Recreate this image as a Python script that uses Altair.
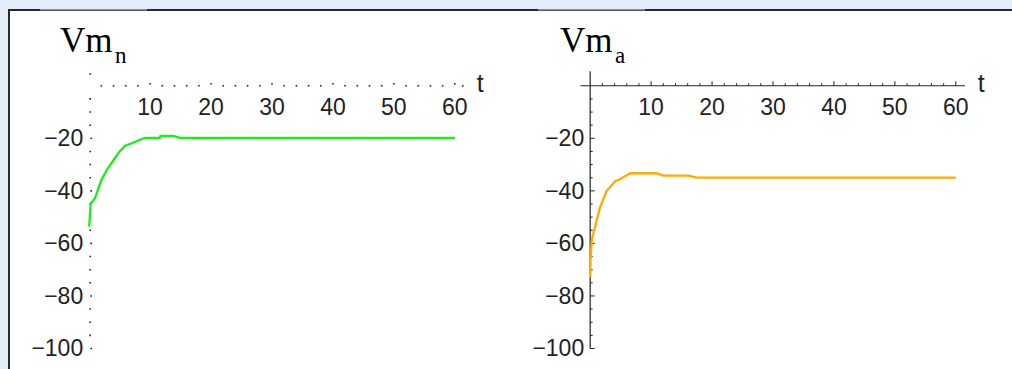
import altair as alt
import pandas as pd

# ---------------- data ----------------
T_N = [0.0, 0.25, 0.95, 2.0, 3.0, 4.2, 5.0, 5.9, 7.2, 8.3, 9.2, 11.6, 11.7, 13.8, 14.9, 20, 30, 40, 50, 60]
V_N = [-53.6, -44.8, -42.8, -35.9, -31.6, -27.6, -25.0, -22.8, -21.7, -20.6, -19.8, -19.8, -19.1, -19.1, -19.8,
       -19.8, -19.8, -19.8, -19.8, -19.8]

T_A = [0.0, 0.05, 0.28, 1.6, 2.7, 4.1, 4.9, 5.7, 6.6, 10.9, 12.0, 16.1, 17.5, 20, 30, 40, 50, 60]
V_A = [-73.0, -66.5, -58.5, -46.4, -40.0, -36.3, -35.6, -34.4, -33.3, -33.3, -34.2, -34.2, -35.0,
       -35.0, -35.0, -35.0, -35.0, -35.0]

X_MAJOR = [10, 20, 30, 40, 50, 60]
X_MINOR = [2, 4, 6, 8, 12, 14, 16, 18, 22, 24, 26, 28, 32, 34, 36, 38, 42, 44, 46, 48, 52, 54, 56, 58]
Y_MAJOR = [-20, -40, -60, -80, -100]
Y_MINOR = [-5, -10, -15, -25, -30, -35, -45, -50, -55, -65, -70, -75, -85, -90, -95]
X_AXIS_END = [-1.6, 61.5]
Y_AXIS_END = [-100, 5.5]

X_DOMAIN = [-2, 62]
Y_DOMAIN = [-104, 6]
W, H = 390, 289

LABEL_FONT = "Liberation Sans"
TITLE_FONT = "Liberation Serif"
INK = "#222222"

xs = alt.Scale(domain=X_DOMAIN, nice=False, zero=False)
ys = alt.Scale(domain=Y_DOMAIN, nice=False, zero=False)


def X(f="t"):
    return alt.X(f"{f}:Q", scale=xs, axis=None)


def Y(f="v"):
    return alt.Y(f"{f}:Q", scale=ys, axis=None)


def minus(v):
    return str(v).replace("-", "\u2212")


def panel(ts, vs, color, sub, dotted, background, title_x, sub_x):
    one = pd.DataFrame({"a": [0]})
    layers = []
    if background:
        # white sheet with dark border, drawn behind both panels
        layers.append(alt.Chart(one).mark_rect(color="white").encode(
            x=alt.value(-69), x2=alt.value(935), y=alt.value(-61), y2=alt.value(299)))
        layers.append(alt.Chart(one).mark_rect(color="#2a2a2a").encode(
            x=alt.value(-69), x2=alt.value(-67), y=alt.value(-61), y2=alt.value(299)))
        layers.append(alt.Chart(one).mark_rect(color="#2a2a2a").encode(
            x=alt.value(-69), x2=alt.value(935), y=alt.value(-61), y2=alt.value(-59)))
        # lighter segments of the top border
        layers.append(alt.Chart(one).mark_rect(color="#8a8f96").encode(
            x=alt.value(-37), x2=alt.value(70), y=alt.value(-61), y2=alt.value(-59.5)))
        layers.append(alt.Chart(one).mark_rect(color="#8a8f96").encode(
            x=alt.value(461), x2=alt.value(568), y=alt.value(-61), y2=alt.value(-59.5)))

    if dotted:
        xdots = pd.DataFrame({"t": X_MINOR + [X_AXIS_END[1] - 0.2], "v": 0})
        xmaj = pd.DataFrame({"t": X_MAJOR, "v": 0})
        ydots = pd.DataFrame({"t": 0, "v": Y_MINOR + [Y_AXIS_END[1] - 1]})
        ymaj = pd.DataFrame({"t": 0, "v": Y_MAJOR})
        layers.append(alt.Chart(xdots).mark_square(size=2.5, color=INK, opacity=1).encode(x=X(), y=Y()))
        layers.append(alt.Chart(xmaj).mark_square(size=2.5, color=INK, opacity=1, yOffset=-2).encode(x=X(), y=Y()))
        layers.append(alt.Chart(ydots).mark_square(size=2.5, color=INK, opacity=1, xOffset=1).encode(x=X(), y=Y()))
        layers.append(alt.Chart(ymaj).mark_square(size=2.5, color=INK, opacity=1, xOffset=2).encode(x=X(), y=Y()))
    else:
        xaxis = pd.DataFrame({"t": [X_AXIS_END[0]], "t2": [X_AXIS_END[1]], "v": [0]})
        yaxis = pd.DataFrame({"t": [0], "v": [Y_AXIS_END[0]], "v2": [Y_AXIS_END[1]]})
        layers.append(alt.Chart(xaxis).mark_rule(color=INK, strokeWidth=1.2).encode(
            x=X(), x2="t2:Q", y=Y()))
        layers.append(alt.Chart(yaxis).mark_rule(color=INK, strokeWidth=1.2).encode(
            x=X(), y=Y(), y2="v2:Q"))
        xmin = pd.DataFrame({"t": X_MINOR, "v": 0})
        xmaj = pd.DataFrame({"t": X_MAJOR, "v": 0})
        ymin = pd.DataFrame({"t": 0, "v": Y_MINOR})
        ymaj = pd.DataFrame({"t": 0, "v": Y_MAJOR})
        layers.append(alt.Chart(xmin).mark_rule(color=INK, y2Offset=-2.5).encode(x=X(), y=Y(), y2="v:Q"))
        layers.append(alt.Chart(xmaj).mark_rule(color=INK, y2Offset=-4.5).encode(x=X(), y=Y(), y2="v:Q"))
        layers.append(alt.Chart(ymin).mark_rule(color=INK, x2Offset=2.5).encode(x=X(), x2="t:Q", y=Y()))
        layers.append(alt.Chart(ymaj).mark_rule(color=INK, x2Offset=4.5).encode(x=X(), x2="t:Q", y=Y()))

    xl = pd.DataFrame({"t": X_MAJOR, "v": 0, "lab": [str(x) for x in X_MAJOR]})
    yl = pd.DataFrame({"t": 0, "v": Y_MAJOR, "lab": [minus(y) for y in Y_MAJOR]})
    layers.append(alt.Chart(xl).mark_text(font=LABEL_FONT, fontSize=23, color=INK, align="center",
                                          baseline="alphabetic", dy=29).encode(x=X(), y=Y(), text="lab:N"))
    layers.append(alt.Chart(yl).mark_text(font=LABEL_FONT, fontSize=23, color=INK, align="right",
                                          baseline="alphabetic", dx=-6, dy=8).encode(x=X(), y=Y(), text="lab:N"))
    tl = pd.DataFrame({"t": [60], "v": [0], "lab": ["t"]})
    layers.append(alt.Chart(tl).mark_text(font=LABEL_FONT, fontSize=25, color=INK, align="left",
                                          baseline="alphabetic", dx=22, dy=6).encode(x=X(), y=Y(), text="lab:N"))

    curve = pd.DataFrame({"t": ts, "v": vs})
    layers.append(alt.Chart(curve).mark_line(color=color, strokeWidth=2.3).encode(
        x=X(), y=Y(), order="t:Q"))

    layers.append(alt.Chart(one).mark_text(font=TITLE_FONT, fontSize=35, color="black", align="left",
                                           baseline="alphabetic", text="Vm").encode(
        x=alt.value(title_x), y=alt.value(-18)))
    layers.append(alt.Chart(one).mark_text(font=TITLE_FONT, fontSize=23, color="black", align="left",
                                           baseline="alphabetic", text=sub).encode(
        x=alt.value(sub_x), y=alt.value(-7)))

    return alt.layer(*layers).properties(width=W, height=H)


left = panel(T_N, V_N, "#1fea1f", "n", True, True, -17, 38)
right = panel(T_A, V_A, "#ffaa00", "a", False, False, -18, 37)

chart = alt.hconcat(left, right, spacing=111, bounds="flush").properties(
    padding={"left": 8, "top": 9, "right": 0, "bottom": 0},
    background="#e4eefa",
).configure_view(strokeWidth=0)

chart.save("out.html", embed_options={"renderer": "svg", "actions": False})
